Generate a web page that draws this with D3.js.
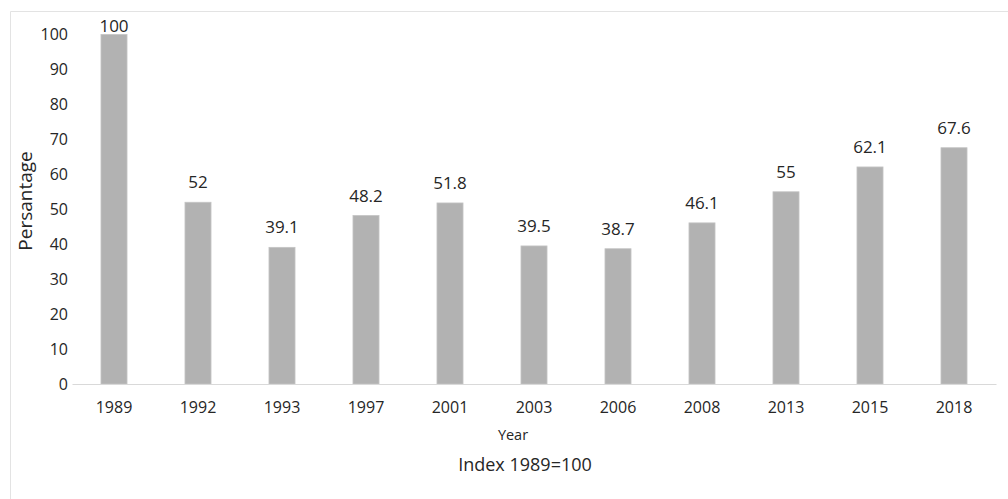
<!DOCTYPE html>
<html>
<head>
<meta charset="utf-8">
<script src="https://cdn.jsdelivr.net/npm/d3@7"></script>
<style>
  body { margin: 0; background: #fff; }
  text { font-family: "Open Sans", sans-serif; fill: #262626; }
</style>
</head>
<body>
<script>
// data
const years = ["1989", "1992", "1993", "1997", "2001", "2003", "2006", "2008", "2013", "2015", "2018"];
const values = [100, 52, 39.1, 48.2, 51.8, 39.5, 38.7, 46.1, 55, 62.1, 67.6];
const yTicks = [0, 10, 20, 30, 40, 50, 60, 70, 80, 90, 100];

const W = 1008, H = 499;
const svg = d3.select("body").append("svg").attr("width", W).attr("height", H);

// chart frame (only top and left edges visible)
svg.append("line").attr("x1", 10.5).attr("x2", W).attr("y1", 11.5).attr("y2", 11.5).attr("stroke", "#e3e3e3");
svg.append("line").attr("x1", 10.5).attr("x2", 10.5).attr("y1", 11.5).attr("y2", H).attr("stroke", "#e3e3e3");

const x = d3.scaleBand().domain(years).range([72, 996]).paddingInner(0.69).paddingOuter(0.345);
const y = d3.scaleLinear().domain([0, 100]).range([384, 34.5]);

// y axis labels (no axis line)
const yAxis = svg.append("g").attr("transform", "translate(68,0)")
  .call(d3.axisLeft(y).tickValues(yTicks).tickSize(0).tickPadding(0));
yAxis.select(".domain").remove();
yAxis.selectAll("text").style("font-size", "16px").style("font-family", "Open Sans").attr("fill", "#262626");

// bars
svg.selectAll("rect.bar").data(values).enter().append("rect")
  .attr("class", "bar")
  .attr("x", (d, i) => x(years[i]))
  .attr("width", x.bandwidth())
  .attr("y", d => y(d))
  .attr("height", d => y(0) - y(d))
  .attr("fill", "#b2b2b2")
  .attr("stroke", "#c4c4c4")
  .attr("stroke-width", 0.8);

// x axis
const xAxis = svg.append("g").attr("transform", "translate(0,384)")
  .call(d3.axisBottom(x).tickSize(0).tickPadding(18));
xAxis.select(".domain").attr("stroke", "#d9d9d9").attr("stroke-width", 1.2);
xAxis.selectAll("text").style("font-size", "16px").style("font-family", "Open Sans").attr("fill", "#262626");

// value labels
svg.selectAll("text.val").data(values).enter().append("text")
  .attr("class", "val")
  .attr("x", (d, i) => x(years[i]) + x.bandwidth() / 2)
  .attr("y", d => Math.max(y(d) - 14, 32))
  .attr("text-anchor", "middle")
  .style("font-size", "17px")
  .text(d => d);

// axis titles
svg.append("text").attr("transform", "translate(32,201) rotate(-90)")
  .attr("text-anchor", "middle").style("font-size", "19px").text("Persantage");
svg.append("text").attr("x", 513).attr("y", 440)
  .attr("text-anchor", "middle").style("font-size", "14.5px").text("Year");
svg.append("text").attr("x", 525).attr("y", 471)
  .attr("text-anchor", "middle").style("font-size", "18px").text("Index 1989=100");
</script>
</body>
</html>
